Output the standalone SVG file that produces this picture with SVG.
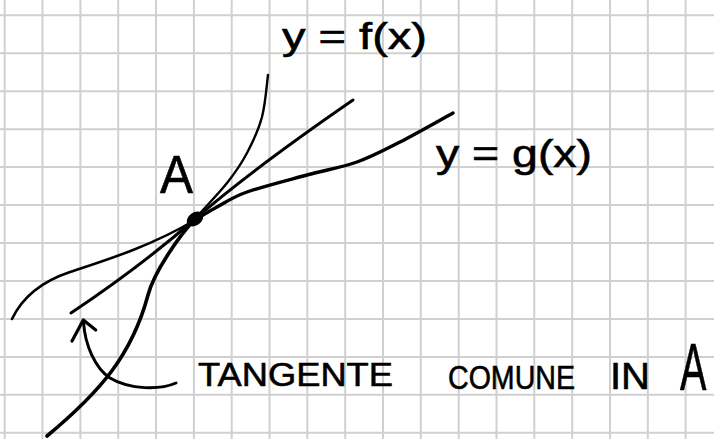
<svg xmlns="http://www.w3.org/2000/svg" width="714" height="439" viewBox="0 0 714 439">
  <style>
    .grid { stroke: #d0d0d0; stroke-width: 2; fill: none; }
    .ink { stroke: #000; fill: none; stroke-linecap: round; stroke-linejoin: round; }
    .hand { font-family: "Liberation Sans", "DejaVu Sans", sans-serif; fill: #000; stroke: #000; stroke-width: 0.6; }
  </style>
  <rect width="714" height="439" fill="#fff"/>
  <g id="grid">
    <path class="grid" d="M4.7,0V439 M42.5,0V439 M80.4,0V439 M118.2,0V439 M156,0V439 M193.9,0V439 M231.7,0V439 M269.5,0V439 M307.3,0V439 M345.2,0V439 M383,0V439 M420.8,0V439 M458.7,0V439 M496.5,0V439 M534.3,0V439 M572.2,0V439 M610,0V439 M647.8,0V439 M685.6,0V439
      M0,15.3H714 M0,53.3H714 M0,91.2H714 M0,129.2H714 M0,167.1H714 M0,205.1H714 M0,243H714 M0,281H714 M0,318.9H714 M0,356.9H714 M0,394.8H714 M0,432.8H714"/>
  </g>
  <g id="connectors">
    <g id="curve-f">
      <path class="ink" stroke-width="3.6" d="M47,436 C100,392 132,355 148,295 C154.4,271 180,235 195,219"/>
      <path class="ink" stroke-width="2.4" d="M195,219 C204.5,207.8 218.3,194 227,183 C235.7,172 241.2,164 247,153 C252.8,142 258.5,130 262,117 C265.5,104 267,82 268,75"/>
    </g>
    <path id="tangent" class="ink" stroke-width="3" d="M71,313 Q140,267 195,219 T353,100"/>
    <g id="curve-g">
      <path class="ink" stroke-width="2.6" d="M12,319 C22,298 40,282 70,272 C100,262 150,247 195,220"/>
      <path class="ink" stroke-width="3.4" d="M195,220 C201.7,215.8 208.3,211.7 217,207 C225.7,202.3 232,197.3 247,192 C262,186.7 288.7,180 307,175 C325.3,170 341.5,167.5 357,162 C372.5,156.5 384,150.2 400,142 C416,133.8 444.2,117.8 453,113"/>
    </g>
    <g id="arrow">
      <path class="ink" stroke-width="3" d="M176,383 C160,390 130,390 110,378 C95,368 85,345 83.5,322"/>
      <polyline class="ink" stroke-width="3.2" points="72,341 83.3,320 95.7,330"/>
    </g>
  </g>
  <g id="point-A">
    <ellipse cx="195" cy="219" rx="9" ry="6.5" transform="rotate(-35 195 219)" fill="#000"/>
    <text class="hand" x="160" y="193" font-size="54" textLength="33" lengthAdjust="spacingAndGlyphs">A</text>
  </g>
  <g id="label-f">
    <text class="hand" x="282" y="49" font-size="36" textLength="145" lengthAdjust="spacingAndGlyphs">y = f(x)</text>
  </g>
  <g id="label-g">
    <text class="hand" x="436" y="167" font-size="38" textLength="156" lengthAdjust="spacingAndGlyphs">y = g(x)</text>
  </g>
  <g id="label-tangente">
    <text class="hand" x="198" y="386" font-size="34" textLength="195" lengthAdjust="spacingAndGlyphs">TANGENTE</text>
    <text class="hand" x="448" y="389" font-size="34" textLength="127" lengthAdjust="spacingAndGlyphs">COMUNE</text>
    <text class="hand" x="610" y="389" font-size="36" textLength="40" lengthAdjust="spacingAndGlyphs">IN</text>
    <text class="hand" transform="translate(680,390) scale(0.6,1)" x="0" y="0" font-size="66">A</text>
  </g>
</svg>
